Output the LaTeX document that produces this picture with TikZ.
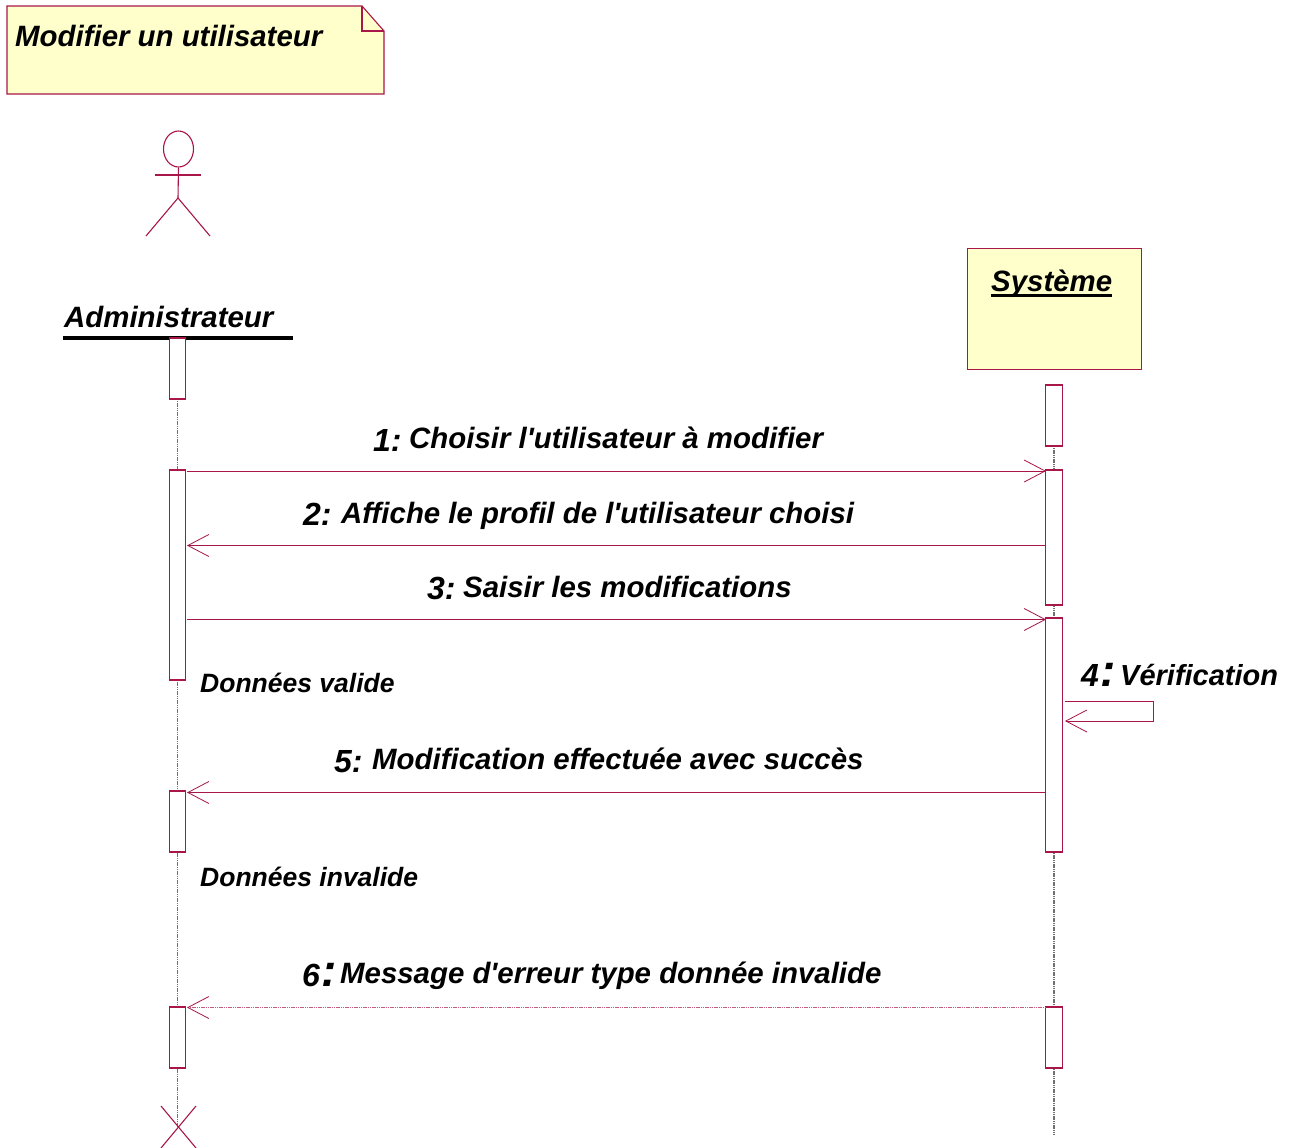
\documentclass[tikz,border=0pt]{standalone}
\usepackage{fontspec}
\newfontfamily\umlfont{Liberation Sans}
\usetikzlibrary{arrows.meta,shapes.geometric}
\definecolor{umlline}{HTML}{A8164A}
\definecolor{umlfill}{HTML}{FFFFCC}
\definecolor{lifegray}{HTML}{707070}
\newcommand{\fsz}[1]{\umlfont\fontsize{#1}{#1}\selectfont\bfseries\itshape}
\newcommand{\bigcolon}{\hspace{1pt}{\fsz{46}:}}
\tikzset{
  x=1pt,y=-1pt,
  umlbox/.style={draw=umlline,line width=1pt,fill=umlfill,inner sep=0pt},
  activation/.style={draw=umlline,line width=1.1pt,fill=white,inner sep=0pt,minimum width=16.5pt},
  lifeline/.style={draw=lifegray,line width=1.4pt,xshift=0.6pt,dash pattern=on 1.2pt off 0.6pt},
  msg/.style={draw=umlline,line width=0.8pt,-{Straight Barb[length=21pt,width=22pt,line width=0.8pt]}},
  msgdot/.style={draw=umlline!70,line width=1.4pt,dash pattern=on 1.2pt off 0.6pt,-{Straight Barb[length=21pt,width=22pt,line width=0.8pt,umlline]}},
  figure/.style={draw=umlline,line width=1.1pt},
  txt/.style={anchor=base west,inner sep=0pt,text=black},
  msgtxt/.style={txt,font=\fsz{29.4}},
  numtxt/.style={txt,font=\fsz{32}},
  guardtxt/.style={txt,font=\fsz{26.5}},
}
\begin{document}
\begin{tikzpicture}
\useasboundingbox (0,0) rectangle (1290,1148);
\fill[white] (0,0) rectangle (1290,1148);
% note
\draw[figure,fill=umlfill] (7,6) -- (362,6) -- (384,31) -- (384,94) -- (7,94) -- cycle;
\draw[figure] (362,6) -- (362,31) -- (384,31);
\node[msgtxt] (title) at (15,46.5) {Modifier un utilisateur};
% actor
\node[draw=umlline,line width=1.1pt,ellipse,inner sep=0pt,minimum width=30pt,minimum height=36pt] (head) at (178.5,149) {};
\coordinate (hip) at (178,198);
\coordinate (armL) at (155,175);
\coordinate (armR) at (201,175);
\coordinate (legL) at (146,236);
\coordinate (legR) at (210,236);
\draw[figure] (head.south) -- (hip);
\draw[figure] (armL) -- (armR);
\draw[figure] (legL) -- (hip) -- (legR);
\node[msgtxt] (admin) at (64,327) {Administrateur};
\coordinate (ulL) at (63,337.5);
\coordinate (ulR) at (293,337.5);
\draw[black,line width=4pt] (ulL) -- (ulR);
% system
\node[umlbox,minimum width=174pt,minimum height=121pt] (sys) at (1054,308.5) {};
\node[msgtxt] (systxt) at (991,291) {Système};
\coordinate (usL) at (991,295.5);
\coordinate (usR) at (1112,295.5);
\draw[black,line width=2.5pt] (usL) -- (usR);
% lifelines (under the activation bars)
\coordinate (a0) at (177.5,399);
\coordinate (xc) at (177.5,1127);
\coordinate (s0) at (1054,446);
\coordinate (sEnd) at (1054,1134);
\draw[lifeline] (a0) -- (xc);
\draw[lifeline] (s0) -- (sEnd);
% activation bars
\node[activation,minimum height=61pt] (a1) at (177.5,368.5) {};
\node[activation,minimum height=210pt] (a2) at (177.5,575) {};
\node[activation,minimum height=61pt] (a3) at (177.5,821.5) {};
\node[activation,minimum height=61pt] (a4) at (177.5,1037.5) {};
\node[activation,minimum height=61pt] (s1) at (1054,415.5) {};
\node[activation,minimum height=135pt] (s2) at (1054,537.5) {};
\node[activation,minimum height=234pt] (s3) at (1054,735) {};
\node[activation,minimum height=61pt] (s4) at (1054,1037.5) {};
% destruction
\coordinate (x1) at (161,1106);
\coordinate (x2) at (196,1148);
\coordinate (x3) at (196,1106);
\coordinate (x4) at (161,1148);
\draw[figure] (x1) -- (x2);
\draw[figure] (x3) -- (x4);
% messages
\coordinate (m1a) at (187,471);   \coordinate (m1b) at (1046,471);
\coordinate (m2a) at (1046,545.5);\coordinate (m2b) at (187,545.5);
\coordinate (m3a) at (187,619.5); \coordinate (m3b) at (1046,619.5);
\coordinate (m5a) at (1046,792.5);\coordinate (m5b) at (187,792.5);
\coordinate (m6a) at (1046,1007.5);\coordinate (m6b) at (187,1007.5);
\coordinate (m4a) at (1065,701);  \coordinate (m4c) at (1153,701);
\coordinate (m4d) at (1153,721);  \coordinate (m4b) at (1065,721);
\draw[msg] (m1a) -- (m1b);
\draw[msg] (m2a) -- (m2b);
\draw[msg] (m3a) -- (m3b);
\draw[msg] (m4a) -- (m4c) -- (m4d) -- (m4b);
\draw[msg] (m5a) -- (m5b);
\draw[msgdot] (m6a) -- (m6b);
% labels
\node[numtxt] (n1) at (373,451) {1:};
\node[msgtxt] (l1) at (409,448.5) {Choisir l'utilisateur à modifier};
\node[numtxt] (n2) at (303,525) {2:};
\node[msgtxt] (l2) at (341,523.5) {Affiche le profil de l'utilisateur choisi};
\node[numtxt] (n3) at (427,599) {3:};
\node[msgtxt] (l3) at (463,597) {Saisir les modifications};
\node[numtxt] (n4) at (1081,686) {4\bigcolon};
\node[txt,font=\fsz{29}] (l4) at (1120,685) {Vérification};
\node[numtxt] (n5) at (334,772) {5:};
\node[msgtxt] (l5) at (372,769) {Modification effectuée avec succès};
\node[numtxt] (n6) at (302,986) {6\bigcolon};
\node[msgtxt] (l6) at (340,983) {Message d'erreur type donnée invalide};
\node[guardtxt] (g1) at (200,692) {Données valide};
\node[guardtxt] (g2) at (200,886) {Données invalide};
\end{tikzpicture}
\end{document}
